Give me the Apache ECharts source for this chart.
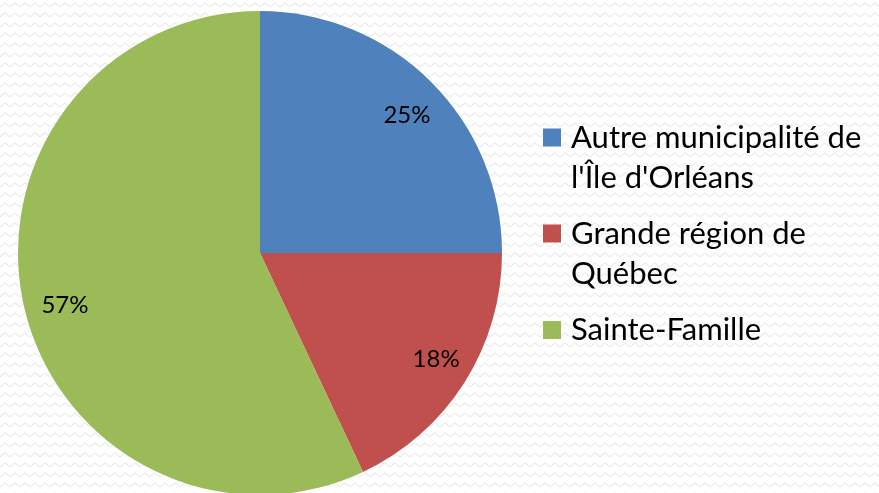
<!DOCTYPE html>
<html>
<head>
<meta charset="utf-8">
<script src="https://cdn.jsdelivr.net/npm/echarts@6/dist/echarts.min.js"></script>
<style>
  html, body { margin: 0; padding: 0; background: #fff; }
  #chart { width: 879px; height: 493px; }
</style>
</head>
<body>
<div id="chart"></div>
<script>
// parts of the pie (percent)
const categories = ["Autre municipalité de l'Île d'Orléans", 'Grande région de Québec', 'Sainte-Famille'];
const legendLines = [["Autre municipalité de", "l'Île d'Orléans"], ['Grande région de', 'Québec'], ['Sainte-Famille']];
const values = [25, 18, 57];
const colors = ['#4F81BD', '#C0504D', '#9BBB59'];

// faint zigzag background like the slide
function zigzag() {
  const c = document.createElement('canvas');
  c.width = 10; c.height = 10;
  const ctx = c.getContext('2d');
  ctx.fillStyle = '#ffffff';
  ctx.fillRect(0, 0, 10, 10);
  ctx.strokeStyle = '#efefef';
  ctx.lineWidth = 1.5;
  ctx.beginPath();
  ctx.moveTo(0, 7); ctx.lineTo(5, 3); ctx.lineTo(10, 7);
  ctx.stroke();
  return c;
}

const font = 'Lato, "Open Sans", sans-serif';
const labelNudge = [[2, 7], [3, -4], [5, 8]];
const data = categories.map((n, i) => ({ name: n, value: values[i], itemStyle: { color: colors[i] } }));

// one legend per entry so the square sits on the first text line
const legendTops = [77.5, 173.5, 310];
const legends = categories.map((n, i) => ({
  data: [n],
  orient: 'vertical',
  left: 543,
  top: legendTops[i],
  padding: 0,
  itemWidth: 18,
  itemHeight: 18,
  icon: 'rect',
  selectedMode: false,
  // leading empty line keeps the first line centred on the square
  formatter: () => (legendLines[i].length > 1 ? '\n' : '') + legendLines[i].join('\n'),
  textStyle: {
    fontFamily: font,
    fontSize: 31,
    lineHeight: 40,
    color: '#000',
    padding: [0, 0, 0, 5]
  }
}));

const chart = echarts.init(document.getElementById('chart'));
chart.setOption({
  backgroundColor: { image: zigzag(), repeat: 'repeat' },
  animation: false,
  legend: legends,
  series: [
    {
      type: 'pie',
      center: [260, 253],
      radius: [0, 242],
      startAngle: 90,
      clockwise: true,
      data: data,
      label: { show: false },
      labelLine: { show: false },
      emphasis: { disabled: true }
    },
    {
      // transparent ring only used to place the percentage labels
      type: 'pie',
      center: [260, 253],
      radius: [162, 242],
      startAngle: 90,
      clockwise: true,
      silent: true,
      data: data.map((d, i) => ({
        name: d.name,
        value: d.value,
        itemStyle: { color: 'rgba(0,0,0,0)' },
        label: { offset: labelNudge[i] }
      })),
      label: {
        show: true,
        position: 'inside',
        formatter: '{c}%',
        fontFamily: font,
        fontSize: 24,
        color: '#000'
      },
      labelLine: { show: false },
      emphasis: { disabled: true }
    }
  ]
});
</script>
</body>
</html>
